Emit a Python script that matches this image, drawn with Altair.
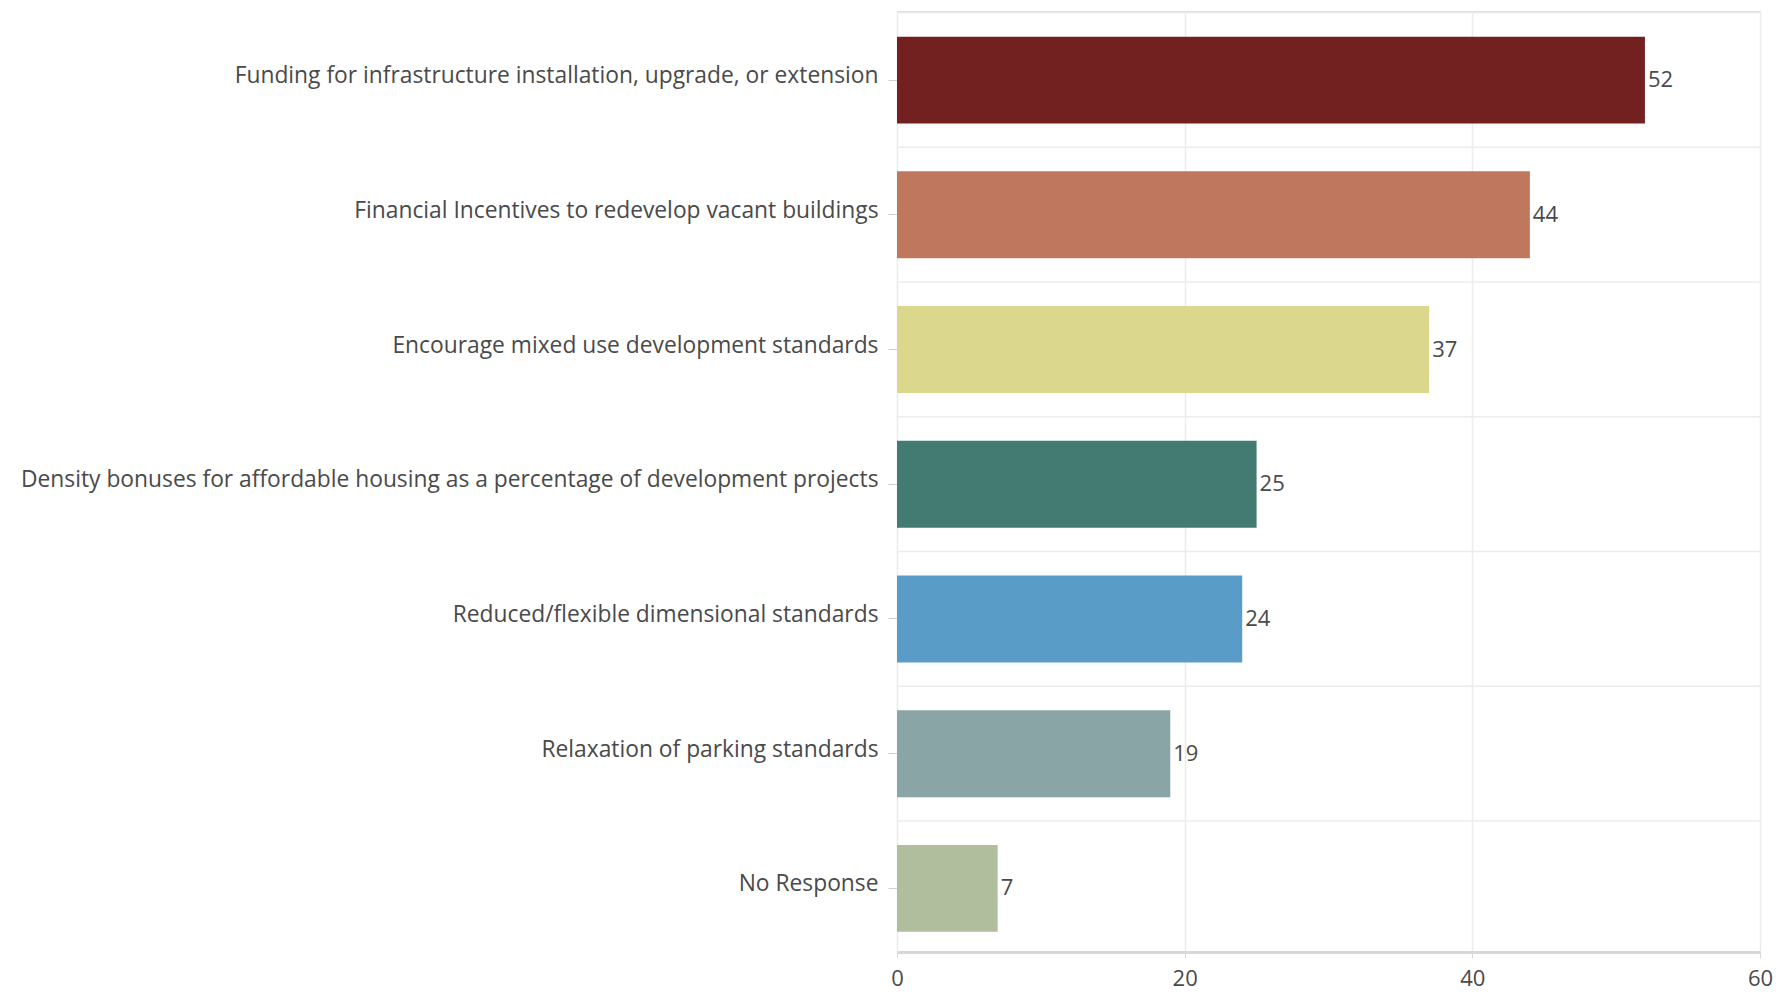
import altair as alt
import pandas as pd

categories = [
    "Funding for infrastructure installation, upgrade, or extension",
    "Financial Incentives to redevelop vacant buildings",
    "Encourage mixed use development standards",
    "Density bonuses for affordable housing as a percentage of development projects",
    "Reduced/flexible dimensional standards",
    "Relaxation of parking standards",
    "No Response",
]
values = [52, 44, 37, 25, 24, 19, 7]
colors = ["#722020", "#bf775d", "#dbd88d", "#437a72", "#5a9cc8", "#8aa5a5", "#b0be9e"]
x_ticks = [0, 20, 40, 60]

df = pd.DataFrame({"category": categories, "value": values, "color": colors})

W, H = 863, 941
FONT = "Open Sans"

yscale = alt.Scale(domain=categories, paddingInner=0.355, paddingOuter=0.17, align=0.56)

bars = alt.Chart(df).mark_bar().encode(
    y=alt.Y(
        "category:N",
        sort=categories,
        scale=yscale,
        title=None,
        axis=alt.Axis(
            labelFont=FONT,
            labelFontSize=22.8,
            labelColor="#4a4a4a",
            labelLimit=900,
            labelOffset=-4,
            tickColor="#d0d0d0",
            tickSize=9,
            labelPadding=10,
            domain=False,
            grid=False,
        ),
    ),
    x=alt.X(
        "value:Q",
        scale=alt.Scale(domain=[0, 60], nice=False),
        title=None,
        axis=alt.Axis(
            values=x_ticks,
            labelFont=FONT,
            labelFontSize=22,
            labelColor="#4a4a4a",
            labelFlush=False,
            tickColor="#d8d8d8",
            tickSize=6,
            labelPadding=10,
            domainColor="#d8d8d8",
            domainWidth=3,
            gridColor="#ececec",
            gridWidth=1.5,
        ),
    ),
    color=alt.Color("color:N", scale=None),
)

grid_rules = alt.Chart(df).mark_rule(color="#ececec", strokeWidth=1.5, yOffset=-24).encode(
    y=alt.Y("category:N", sort=categories, scale=yscale, bandPosition=0),
    x=alt.value(0),
    x2=alt.value(W),
)

text = alt.Chart(df).mark_text(
    align="left", baseline="middle", dx=3, font=FONT, fontSize=22, color="#4a4a4a"
).encode(
    y=alt.Y("category:N", sort=categories, scale=yscale),
    x=alt.X("value:Q"),
    text=alt.Text("value:Q"),
)

chart = (
    alt.layer(grid_rules, bars, text)
    .properties(
        width=W,
        height=H,
        autosize=alt.AutoSizeParams(type="none"),
        padding={"left": 897, "top": 11, "right": 32, "bottom": 40},
    )
    .configure_view(stroke=None)
    .configure(background="white")
)

chart.save("out.html", embed_options={"renderer": "svg", "actions": False})
